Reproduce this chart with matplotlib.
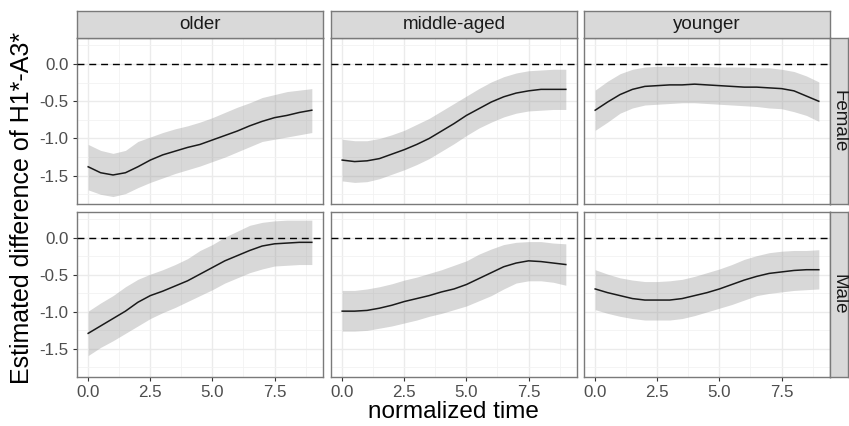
import numpy as np
import matplotlib
matplotlib.use('Agg')
import matplotlib.pyplot as plt

plt.rcParams['font.family'] = ['Liberation Sans', 'DejaVu Sans']

W, H = 849, 426

# normalized time points (read every 0.5)
time = np.arange(0, 9.01, 0.5)

ages = ['older', 'middle-aged', 'younger']
sexes = ['Female', 'Male']

# --- Female ---
older_f_fit = [-1.38, -1.46, -1.49, -1.46, -1.38, -1.29, -1.22, -1.17, -1.12, -1.08,
               -1.02, -0.96, -0.90, -0.83, -0.77, -0.72, -0.69, -0.65, -0.62]
older_f_lo = [-1.69, -1.75, -1.78, -1.74, -1.66, -1.59, -1.53, -1.47, -1.42, -1.37,
              -1.31, -1.25, -1.18, -1.11, -1.04, -1.01, -0.98, -0.95, -0.92]
older_f_hi = [-1.08, -1.16, -1.20, -1.16, -1.04, -0.98, -0.92, -0.87, -0.83, -0.78,
              -0.72, -0.65, -0.58, -0.52, -0.45, -0.41, -0.37, -0.35, -0.33]

middle_f_fit = [-1.29, -1.31, -1.30, -1.27, -1.21, -1.15, -1.08, -1.00, -0.90, -0.80,
                -0.69, -0.60, -0.51, -0.44, -0.39, -0.36, -0.34, -0.34, -0.34]
middle_f_lo = [-1.57, -1.59, -1.58, -1.54, -1.48, -1.42, -1.35, -1.27, -1.17, -1.07,
               -0.96, -0.86, -0.78, -0.71, -0.66, -0.63, -0.62, -0.61, -0.61]
middle_f_hi = [-1.01, -1.03, -1.03, -1.00, -0.95, -0.89, -0.81, -0.73, -0.63, -0.53,
               -0.43, -0.33, -0.24, -0.17, -0.12, -0.09, -0.08, -0.07, -0.07]

younger_f_fit = [-0.62, -0.51, -0.41, -0.34, -0.30, -0.29, -0.28, -0.28, -0.27, -0.28,
                 -0.29, -0.30, -0.31, -0.31, -0.32, -0.33, -0.36, -0.43, -0.50]
younger_f_lo = [-0.89, -0.78, -0.66, -0.59, -0.55, -0.54, -0.53, -0.52, -0.52, -0.53,
                -0.54, -0.55, -0.56, -0.57, -0.59, -0.60, -0.64, -0.69, -0.77]
younger_f_hi = [-0.35, -0.23, -0.13, -0.07, -0.04, -0.03, -0.03, -0.03, -0.03, -0.03,
                -0.04, -0.04, -0.04, -0.05, -0.05, -0.07, -0.10, -0.16, -0.24]

# --- Male ---
older_m_fit = [-1.29, -1.19, -1.09, -0.99, -0.87, -0.78, -0.72, -0.65, -0.58, -0.49,
               -0.40, -0.31, -0.24, -0.17, -0.11, -0.08, -0.07, -0.06, -0.06]
older_m_lo = [-1.59, -1.48, -1.39, -1.29, -1.19, -1.09, -1.01, -0.94, -0.86, -0.78,
              -0.70, -0.61, -0.54, -0.47, -0.42, -0.38, -0.37, -0.36, -0.36]
older_m_hi = [-0.99, -0.88, -0.78, -0.66, -0.56, -0.49, -0.43, -0.36, -0.28, -0.17,
              -0.09, 0.01, 0.09, 0.17, 0.21, 0.23, 0.24, 0.24, 0.24]

middle_m_fit = [-0.99, -0.99, -0.98, -0.95, -0.91, -0.86, -0.82, -0.78, -0.73, -0.69,
                -0.63, -0.55, -0.47, -0.39, -0.34, -0.31, -0.32, -0.34, -0.36]
middle_m_lo = [-1.26, -1.26, -1.25, -1.22, -1.19, -1.15, -1.11, -1.06, -1.02, -0.97,
               -0.92, -0.85, -0.78, -0.69, -0.61, -0.58, -0.58, -0.60, -0.64]
middle_m_hi = [-0.71, -0.71, -0.69, -0.66, -0.62, -0.57, -0.53, -0.48, -0.43, -0.37,
               -0.31, -0.22, -0.15, -0.09, -0.06, -0.05, -0.05, -0.07, -0.08]

younger_m_fit = [-0.69, -0.74, -0.78, -0.82, -0.84, -0.84, -0.84, -0.82, -0.78, -0.74,
                 -0.69, -0.63, -0.57, -0.52, -0.48, -0.46, -0.44, -0.43, -0.43]
younger_m_lo = [-0.97, -1.02, -1.06, -1.09, -1.11, -1.11, -1.11, -1.09, -1.05, -1.00,
                -0.95, -0.90, -0.84, -0.78, -0.75, -0.73, -0.71, -0.70, -0.69]
younger_m_hi = [-0.43, -0.49, -0.54, -0.57, -0.59, -0.59, -0.58, -0.56, -0.52, -0.47,
                -0.42, -0.36, -0.29, -0.24, -0.20, -0.18, -0.17, -0.17, -0.16]

panels = {
    ('Female', 'older'): (older_f_fit, older_f_lo, older_f_hi),
    ('Female', 'middle-aged'): (middle_f_fit, middle_f_lo, middle_f_hi),
    ('Female', 'younger'): (younger_f_fit, younger_f_lo, younger_f_hi),
    ('Male', 'older'): (older_m_fit, older_m_lo, older_m_hi),
    ('Male', 'middle-aged'): (middle_m_fit, middle_m_lo, middle_m_hi),
    ('Male', 'younger'): (younger_m_fit, younger_m_lo, younger_m_hi),
}

x_ticks = [0.0, 2.5, 5.0, 7.5]
y_ticks = [0.0, -0.5, -1.0, -1.5]

# pixel layout of the facet grid
col_px = [(77, 323), (331, 577), (584, 830)]
row_px = [(38, 204), (212, 377)]
top_strip_px = (11, 38)
side_strip_px = (830, 848)

border_col = '#7a7a7a'
strip_fill = '#D9D9D9'


def box(x0, y0, x1, y1):
    # pixel box -> figure fraction [left, bottom, width, height]
    return [x0 / W, 1 - y1 / H, (x1 - x0) / W, (y1 - y0) / H]


def make_strip(rect, label, rotation=0):
    sa = fig.add_axes(rect)
    sa.set_facecolor(strip_fill)
    sa.set_xticks([])
    sa.set_yticks([])
    for s in sa.spines.values():
        s.set_color(border_col)
        s.set_linewidth(1.0)
    sa.text(0.5, 0.5, label, transform=sa.transAxes, ha='center', va='center',
            fontsize=13.5, color='#1A1A1A', rotation=rotation)


fig = plt.figure(figsize=(W / 100, H / 100), dpi=100)

for r, sex in enumerate(sexes):
    for c, age in enumerate(ages):
        x0, x1 = col_px[c]
        y0, y1 = row_px[r]
        ax = fig.add_axes(box(x0, y0, x1, y1))
        fit, lo, hi = panels[(sex, age)]

        ax.fill_between(time, lo, hi, color='#999999', alpha=0.38, lw=0, zorder=2)
        ax.plot(time, fit, color='#1a1a1a', lw=1.1, zorder=3)
        ax.axhline(0, color='black', lw=1.0, ls=(0, (5, 3.5)), zorder=4)

        ax.set_xlim(-0.45, 9.45)
        ax.set_ylim(-1.88, 0.35)
        ax.set_xticks(x_ticks)
        ax.set_xticks([1.25, 3.75, 6.25, 8.75], minor=True)
        ax.set_yticks(y_ticks)
        ax.set_yticks([0.25, -0.25, -0.75, -1.25, -1.75], minor=True)
        ax.grid(True, which='major', color='#EBEBEB', lw=1.0, zorder=0)
        ax.grid(True, which='minor', color='#F2F2F2', lw=0.6, zorder=0)
        ax.set_axisbelow(True)

        for s in ax.spines.values():
            s.set_color(border_col)
            s.set_linewidth(1.0)

        ax.tick_params(which='minor', length=0)
        ax.tick_params(which='major', length=3, width=0.8, color='#333333',
                       labelsize=12.2, labelcolor='#4D4D4D', pad=3)
        ax.set_xticklabels([f'{t:.1f}' for t in x_ticks])
        ax.set_yticklabels([f'{t:.1f}' for t in y_ticks])
        if c > 0:
            ax.tick_params(axis='y', left=False, labelleft=False)
        if r == 0:
            ax.tick_params(axis='x', bottom=False, labelbottom=False)

        if r == 0:
            make_strip(box(x0, top_strip_px[0], x1, top_strip_px[1]), age)
        if c == len(ages) - 1:
            make_strip(box(side_strip_px[0], y0, side_strip_px[1], y1), sex, rotation=-90)

fig.text(22 / W, 1 - 207.5 / H, 'Estimated difference of H1*-A3*', rotation=90,
         ha='center', va='center', fontsize=18, color='black')
fig.text(453.5 / W, 1 - 412 / H, 'normalized time', ha='center', va='center',
         fontsize=17.5, color='black')

fig.savefig('out.png', dpi=100)
